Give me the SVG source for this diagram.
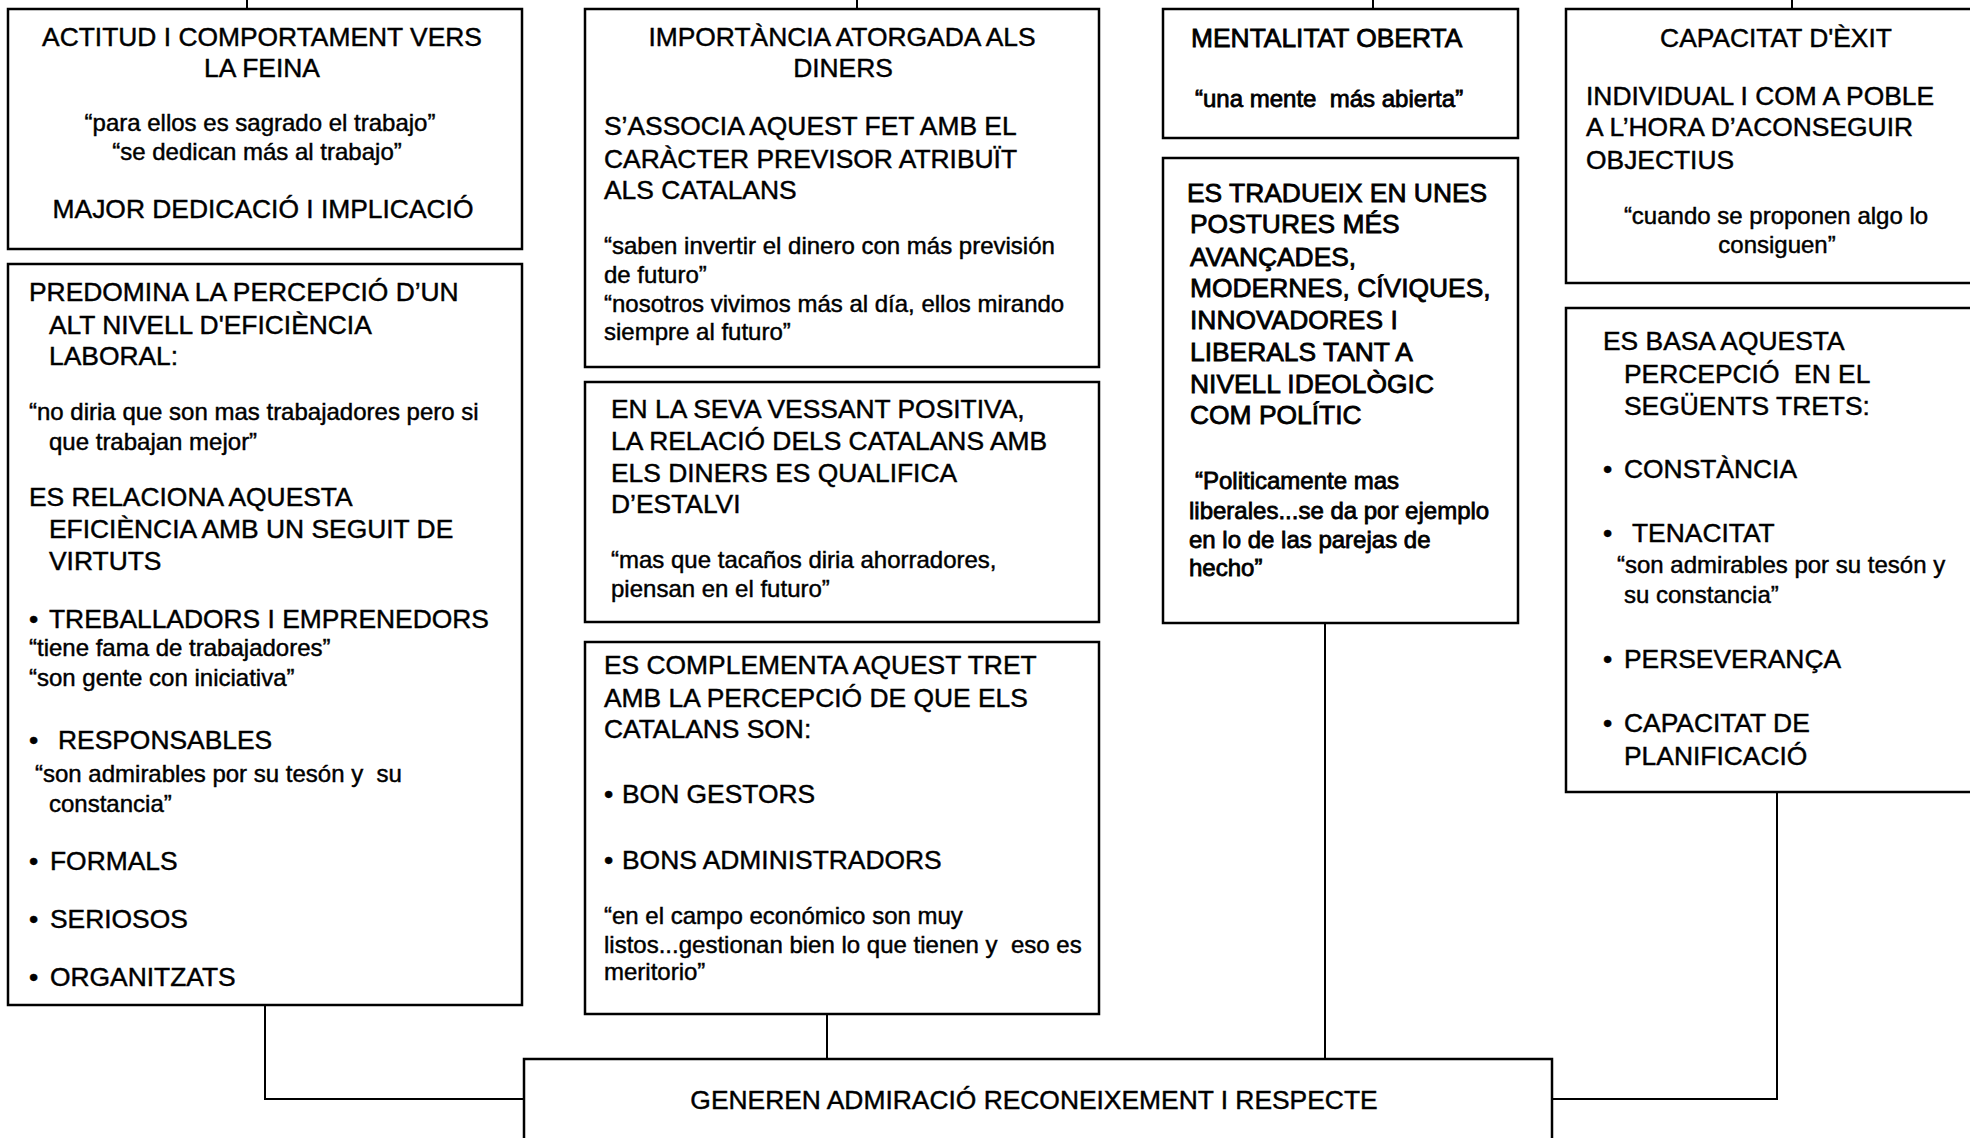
<svg xmlns="http://www.w3.org/2000/svg" width="1970" height="1138" viewBox="0 0 1970 1138">
<style>
.box{fill:#fff;stroke:#000;stroke-width:2.5}
.con{fill:none;stroke:#000;stroke-width:2}
text{font-family:"Liberation Sans",Arial,sans-serif;font-size:26.4px;fill:#000;stroke:#000;stroke-width:0.45px}
.q{font-size:24px}
.c{text-anchor:middle}
.hv text{stroke-width:0.8px}
</style>
<rect width="1970" height="1138" fill="#fff"/>
<g id="connectors">
<path class="con" d="M247 0V9M857 0V9M1373 0V9M1792 0V9"/>
<path class="con" d="M265 1005V1099H524"/>
<path class="con" d="M827 1014V1059"/>
<path class="con" d="M1325 623V1059"/>
<path class="con" d="M1777 792V1099H1552"/>
</g>
<g id="n1">
<rect class="box" x="8" y="9" width="514" height="240"/>
<text class="c" x="262" y="46">ACTITUD I COMPORTAMENT VERS</text>
<text class="c" x="262" y="77">LA FEINA</text>
<text class="c q" x="260" y="131">“para ellos es sagrado el trabajo”</text>
<text class="c q" x="257" y="160">“se dedican más al trabajo”</text>
<text class="c" x="263" y="218">MAJOR DEDICACIÓ I IMPLICACIÓ</text>
</g>
<g id="n2">
<rect class="box" x="8" y="264" width="514" height="741"/>
<text x="29" y="301">PREDOMINA LA PERCEPCIÓ D’UN</text>
<text x="49" y="334">ALT NIVELL D'EFICIÈNCIA</text>
<text x="49" y="365">LABORAL:</text>
<text class="q" x="29" y="420">“no diria que son mas trabajadores pero si</text>
<text class="q" x="49" y="450">que trabajan mejor”</text>
<text x="29" y="506">ES RELACIONA AQUESTA</text>
<text x="49" y="538">EFICIÈNCIA AMB UN SEGUIT DE</text>
<text x="49" y="570">VIRTUTS</text>
<text x="29" y="628">•</text><text x="49" y="628">TREBALLADORS I EMPRENEDORS</text>
<text class="q" x="29" y="656">“tiene fama de trabajadores”</text>
<text class="q" x="29" y="686">“son gente con iniciativa”</text>
<text x="29" y="749">•</text><text x="58" y="749">RESPONSABLES</text>
<text class="q" x="35" y="782">“son admirables por su tesón y&#160; su</text>
<text class="q" x="49" y="812">constancia”</text>
<text x="29" y="870">•</text><text x="50" y="870">FORMALS</text>
<text x="29" y="928">•</text><text x="50" y="928">SERIOSOS</text>
<text x="29" y="986">•</text><text x="50" y="986">ORGANITZATS</text>
</g>
<g id="n3">
<rect class="box" x="585" y="9" width="514" height="358"/>
<text class="c" x="842" y="46">IMPORTÀNCIA ATORGADA ALS</text>
<text class="c" x="843" y="77">DINERS</text>
<text x="604" y="135">S’ASSOCIA AQUEST FET AMB EL</text>
<text x="604" y="168">CARÀCTER PREVISOR ATRIBUÏT</text>
<text x="604" y="199">ALS CATALANS</text>
<text class="q" x="604" y="254">“saben invertir el dinero con más previsión</text>
<text class="q" x="604" y="283">de futuro”</text>
<text class="q" x="604" y="312">“nosotros vivimos más al día, ellos mirando</text>
<text class="q" x="604" y="340">siempre al futuro”</text>
</g>
<g id="n4">
<rect class="box" x="585" y="382" width="514" height="240"/>
<text x="611" y="418">EN LA SEVA VESSANT POSITIVA,</text>
<text x="611" y="450">LA RELACIÓ DELS CATALANS AMB</text>
<text x="611" y="482">ELS DINERS ES QUALIFICA</text>
<text x="611" y="513">D’ESTALVI</text>
<text class="q" x="611" y="568">“mas que tacaños diria ahorradores,</text>
<text class="q" x="611" y="597">piensan en el futuro”</text>
</g>
<g id="n5">
<rect class="box" x="585" y="642" width="514" height="372"/>
<text x="604" y="674">ES COMPLEMENTA AQUEST TRET</text>
<text x="604" y="707">AMB LA PERCEPCIÓ DE QUE ELS</text>
<text x="604" y="738">CATALANS SON:</text>
<text x="604" y="803">•</text><text x="622" y="803">BON GESTORS</text>
<text x="604" y="869">•</text><text x="622" y="869">BONS ADMINISTRADORS</text>
<text class="q" x="604" y="924">“en el campo económico son muy</text>
<text class="q" x="604" y="953">listos...gestionan bien lo que tienen y&#160; eso es</text>
<text class="q" x="604" y="980">meritorio”</text>
</g>
<g id="n6" class="hv">
<rect class="box" x="1163" y="9" width="355" height="129"/>
<text x="1191" y="47">MENTALITAT OBERTA</text>
<text class="q" x="1195" y="107">“una mente&#160; más abierta”</text>
</g>
<g id="n7" class="hv">
<rect class="box" x="1163" y="158" width="355" height="465"/>
<text x="1187" y="202">ES TRADUEIX EN UNES</text>
<text x="1190" y="233">POSTURES MÉS</text>
<text x="1190" y="266">AVANÇADES,</text>
<text x="1190" y="297">MODERNES, CÍVIQUES,</text>
<text x="1190" y="329">INNOVADORES I</text>
<text x="1190" y="361">LIBERALS TANT A</text>
<text x="1190" y="393">NIVELL IDEOLÒGIC</text>
<text x="1190" y="424">COM POLÍTIC</text>
<text class="q" x="1195" y="489">“Politicamente mas</text>
<text class="q" x="1189" y="519">liberales...se da por ejemplo</text>
<text class="q" x="1189" y="548">en lo de las parejas de</text>
<text class="q" x="1189" y="576">hecho”</text>
</g>
<g id="n8">
<rect class="box" x="1566" y="9" width="424" height="274"/>
<text class="c" x="1776" y="47">CAPACITAT D'ÈXIT</text>
<text x="1586" y="105">INDIVIDUAL I COM A POBLE</text>
<text x="1586" y="136">A L’HORA D’ACONSEGUIR</text>
<text x="1586" y="169">OBJECTIUS</text>
<text class="c q" x="1776" y="224">“cuando se proponen algo lo</text>
<text class="c q" x="1777" y="253">consiguen”</text>
</g>
<g id="n9">
<rect class="box" x="1566" y="308" width="424" height="484"/>
<text x="1603" y="350">ES BASA AQUESTA</text>
<text x="1624" y="383">PERCEPCIÓ&#160; EN EL</text>
<text x="1624" y="415">SEGÜENTS TRETS:</text>
<text x="1603" y="478">•</text><text x="1624" y="478">CONSTÀNCIA</text>
<text x="1603" y="542">•</text><text x="1632" y="542">TENACITAT</text>
<text class="q" x="1617" y="573">“son admirables por su tesón y</text>
<text class="q" x="1624" y="603">su constancia”</text>
<text x="1603" y="668">•</text><text x="1624" y="668">PERSEVERANÇA</text>
<text x="1603" y="732">•</text><text x="1624" y="732">CAPACITAT DE</text>
<text x="1624" y="765">PLANIFICACIÓ</text>
</g>
<g id="n10">
<rect class="box" x="524" y="1059" width="1028" height="100"/>
<text class="c" x="1034" y="1109">GENEREN ADMIRACIÓ RECONEIXEMENT I RESPECTE</text>
</g>
</svg>
